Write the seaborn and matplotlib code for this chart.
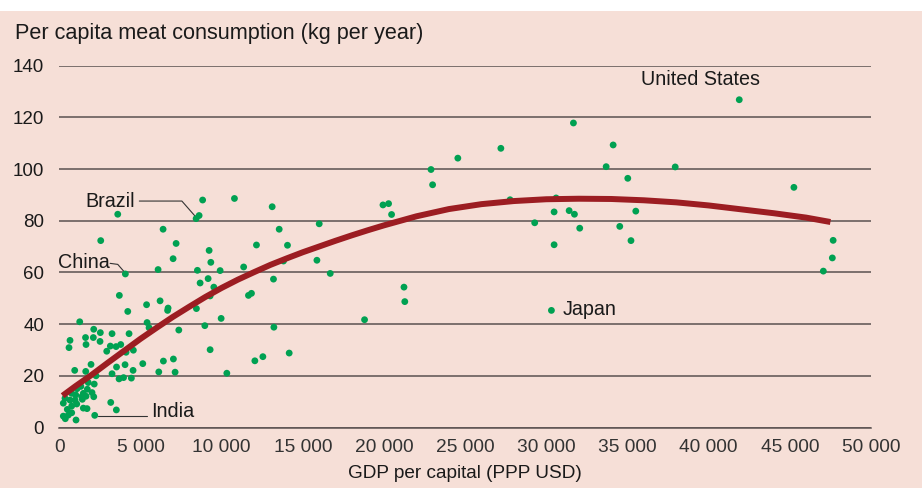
import matplotlib
matplotlib.use("Agg")
import matplotlib.pyplot as plt
from matplotlib.patches import Rectangle
import seaborn as sns
import pandas as pd

# GDP per capita (PPP USD) and meat consumption (kg per person per year)
gdp = [8428, 8613, 8829, 3600, 2552, 6393, 7195, 9229, 10789, 13113,
       13545, 12145, 14056, 16011, 19938, 20283, 20468, 22897, 22995, 24549,
       27200, 31670, 34117, 33686, 35018, 37940, 41885, 45251, 27767, 30603,
       30480, 31405, 31732, 35511, 29284, 32058, 34524, 30480, 35215, 47668,
       47618, 47064, 16689, 21232, 21282, 18803, 30314, 9907, 11356, 13810,
       15869, 13193, 11652, 11837, 9969, 13218, 12046, 12540, 14161, 10320,
       7010, 9334, 6085, 8508, 4069, 9167, 8674, 9519, 9291, 3699,
       5376, 6208, 6701, 6671, 4217, 8446, 1258, 5407, 5530, 8964,
       7361, 2121, 2528, 1615, 2096, 660, 1646, 2509, 3249, 4297,
       598, 3144, 3496, 3785, 2922, 4112, 4562, 9291, 5142, 6412,
       7028, 1954, 3526, 4050, 949, 1628, 2263, 3249, 4544, 3681,
       3958, 4439, 6128, 7133, 1782, 2152, 1326, 2016, 1646, 2121,
       1418, 1011, 660, 247, 3169, 764, 1073, 1480, 1708, 493,
       3514, 247, 555, 1030, 2182, 370, 764, 351, 968, 1381,
       1726, 1480, 764, 1091]
meat = [80.8, 82.0, 88.0, 82.5, 72.3, 76.7, 71.2, 68.5, 88.6, 85.4,
        76.7, 70.6, 70.5, 78.8, 86.1, 86.6, 82.4, 99.8, 93.9, 104.2,
        108.0, 117.8, 109.3, 100.9, 96.4, 100.8, 126.8, 92.9, 88.1, 88.8,
        83.4, 83.9, 82.5, 83.7, 79.2, 77.1, 77.8, 70.7, 72.3, 72.4,
        65.6, 60.5, 59.6, 54.3, 48.7, 41.7, 45.3, 60.7, 62.1, 64.4,
        64.7, 57.4, 51.1, 51.9, 42.2, 38.8, 25.8, 27.4, 28.8, 21.0,
        65.3, 63.9, 61.1, 60.8, 59.4, 57.6, 55.9, 54.3, 50.9, 51.1,
        47.5, 49.0, 46.2, 45.3, 44.9, 46.0, 40.9, 40.6, 38.6, 39.4,
        37.7, 38.0, 36.7, 34.8, 34.8, 33.7, 32.1, 33.3, 36.3, 36.3,
        30.9, 31.5, 31.3, 32.1, 29.5, 29.1, 29.9, 30.1, 24.7, 25.7,
        26.5, 24.4, 23.4, 24.3, 22.1, 21.7, 20.0, 20.8, 22.1, 18.8,
        19.3, 19.1, 21.5, 21.4, 17.4, 16.8, 15.9, 13.5, 12.1, 11.9,
        10.9, 12.6, 10.6, 9.4, 9.7, 8.3, 9.1, 7.5, 7.3, 7.0,
        6.8, 4.4, 4.8, 2.9, 4.7, 3.4, 5.7, 11.3, 10.6, 11.9,
        14.8, 13.2, 13.2, 15.0]

# fitted trend
fit_gdp = [200, 1000, 2000, 3000, 4000, 5000, 6000, 7000, 8000, 9000,
           10000, 11000, 12000, 13000, 14000, 15000, 16000, 17000, 18000, 19000,
           20000, 22000, 24000, 26000, 28000, 30000, 32000, 34000, 36000, 38000,
           40000, 42000, 44000, 46000, 47500]
fit_meat = [12.3, 16.0, 20.4, 25.1, 29.7, 34.3, 38.6, 42.8, 46.7, 50.5,
            54.0, 57.2, 60.1, 62.9, 65.4, 67.8, 70.0, 72.2, 74.3, 76.3,
            78.2, 81.7, 84.5, 86.4, 87.6, 88.3, 88.5, 88.4, 87.9, 87.1,
            85.9, 84.4, 82.9, 81.2, 79.5]

x_ticks = [0, 5000, 10000, 15000, 20000, 25000, 30000, 35000, 40000, 45000, 50000]
x_labels = ["0", "5 000", "10 000", "15 000", "20 000", "25 000",
            "30 000", "35 000", "40 000", "45 000", "50 000"]
y_ticks = [0, 20, 40, 60, 80, 100, 120, 140]

PINK = "#F6DFD7"
GREEN = "#00A152"
RED = "#9C1D22"
GRID = "#5a5150"
TXT = "#1a1a1a"

sns.set_style("white")
plt.rcParams["font.family"] = ["Liberation Sans", "DejaVu Sans"]

fig = plt.figure(figsize=(9.22, 4.88), dpi=100)
fig.patch.set_facecolor("white")
fig.add_artist(Rectangle((0, 0), 1, 1 - 11 / 488, transform=fig.transFigure,
                         facecolor=PINK, edgecolor="none", zorder=-10))

ax = fig.add_axes([59.3 / 922, 1 - 427.5 / 488, (871 - 59.3) / 922, (427.5 - 65.6) / 488])
ax.set_facecolor("none")

pts = pd.DataFrame({"gdp": gdp, "meat": meat})
fit = pd.DataFrame({"gdp": fit_gdp, "meat": fit_meat})

sns.scatterplot(data=pts, x="gdp", y="meat", color=GREEN, s=24, edgecolor="none",
                ax=ax, zorder=3, clip_on=False)
sns.lineplot(data=fit, x="gdp", y="meat", color=RED, lw=4.3, ax=ax, zorder=4,
             solid_capstyle="butt")

ax.set_xlim(0, 50000)
ax.set_ylim(0, 140)
ax.set_xticks(x_ticks)
ax.set_xticklabels(x_labels)
ax.set_yticks(y_ticks)
ax.set_yticklabels([str(v) for v in y_ticks])
ax.grid(axis="y", color=GRID, lw=1.1)
ax.grid(axis="x", visible=False)
ax.set_axisbelow(True)
for s in ["top", "right", "left"]:
    ax.spines[s].set_visible(False)
ax.spines["bottom"].set_color(GRID)
ax.spines["bottom"].set_linewidth(1.1)
ax.tick_params(axis="y", length=0, pad=11, labelsize=13.5, labelcolor=TXT)
ax.tick_params(axis="x", length=5, width=1, color=GRID, direction="out",
               pad=3, labelsize=13.8, labelcolor="#333333")
ax.set_xlabel("GDP per capital (PPP USD)", fontsize=13.7, color=TXT, labelpad=7)
ax.set_ylabel("")

fig.text(15 / 922, 1 - 33 / 488, "Per capita meat consumption (kg per year)",
         fontsize=15.6, color=TXT, va="center", ha="left")

# country labels
lab = 14.2
ax.text(39500, 134.8, "United States", fontsize=lab, color=TXT, ha="center", va="center")
ax.text(31000, 45.6, "Japan", fontsize=lab, color=TXT, ha="left", va="center")
ax.text(5650, 6.0, "India", fontsize=lab, color=TXT, ha="left", va="center")
ax.plot([2390, 5400], [4.5, 4.5], color="#333333", lw=0.8, zorder=2)
ax.text(3120, 63.9, "China", fontsize=lab, color=TXT, ha="right", va="center")
ax.plot([3130, 3600, 3990], [63.5, 63.1, 60.3], color="#333333", lw=0.8, zorder=2)
ax.text(4680, 87.6, "Brazil", fontsize=lab, color=TXT, ha="right", va="center")
ax.plot([4930, 7550, 8430], [87.6, 87.6, 81.3], color="#333333", lw=0.8, zorder=2)

plt.savefig("out.png", dpi=100, facecolor=fig.get_facecolor())
